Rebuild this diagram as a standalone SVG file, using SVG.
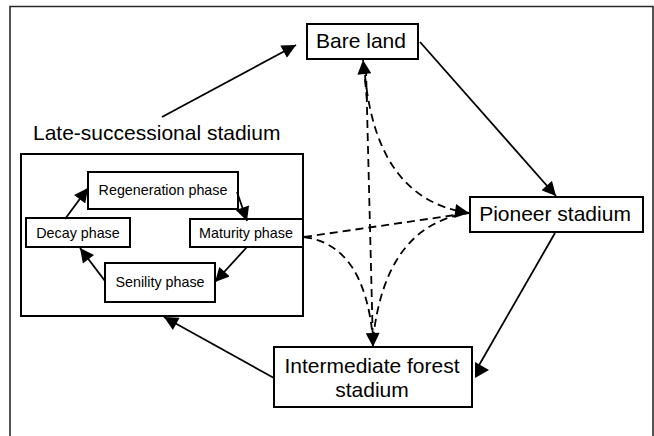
<svg xmlns="http://www.w3.org/2000/svg" width="654" height="436" viewBox="0 0 654 436">
<style>
.box{fill:#fff;stroke:#000;stroke-width:2}
.big{font-family:"Liberation Sans",Arial,sans-serif;font-size:21px;fill:#000;text-anchor:middle}
.small{font-family:"Liberation Sans",Arial,sans-serif;font-size:14.3px;fill:#000;text-anchor:middle}
.ln{fill:none;stroke:#000;stroke-width:1.8}
.dash{fill:none;stroke:#000;stroke-width:1.8;stroke-dasharray:8 5}
</style>
<defs>
<marker id="ah" viewBox="0 0 10 10" refX="10" refY="5" markerWidth="15" markerHeight="14" markerUnits="userSpaceOnUse" orient="auto">
<path d="M0,0 L10,5 L0,10 Z" fill="#000"/>
</marker>
</defs>
<rect x="0" y="0" width="654" height="436" fill="#fff"/>
<path d="M10,440 V6.5 H653 V440" fill="none" stroke="#2a2a2a" stroke-width="1.6"/>

<g id="late-label"><text class="big" x="33" y="140" style="text-anchor:start">Late-successional stadium</text></g>
<g id="late-box"><rect class="box" x="21" y="154" width="282" height="162"/></g>

<g id="bare-land"><rect class="box" x="307" y="24" width="111" height="35"/><text class="big" x="361" y="48">Bare land</text></g>
<g id="pioneer"><rect class="box" x="470" y="197" width="173" height="35"/><text class="big" x="555" y="221">Pioneer stadium</text></g>
<g id="intermediate"><rect class="box" x="274" y="347" width="198" height="60"/><text class="big" x="372" y="373">Intermediate forest</text><text class="big" x="372" y="397">stadium</text></g>

<g id="regeneration"><rect class="box" x="88" y="172" width="150" height="37"/><text class="small" x="163" y="195">Regeneration phase</text></g>
<g id="decay"><rect class="box" x="26" y="218" width="104" height="29"/><text class="small" x="78" y="238">Decay phase</text></g>
<g id="maturity"><rect class="box" x="190" y="219" width="113" height="28"/><text class="small" x="246" y="238">Maturity phase</text></g>
<g id="senility"><rect class="box" x="105" y="263" width="110" height="39"/><text class="small" x="160" y="287">Senility phase</text></g>

<g id="connectors">
<line class="ln" x1="162" y1="117" x2="296" y2="45" marker-end="url(#ah)"/>
<line class="ln" x1="420" y1="42" x2="556" y2="196" marker-end="url(#ah)"/>
<line class="ln" x1="555" y1="233" x2="478" y2="367"/>
<polygon points="475,362 489,370 475,378" fill="#000"/>
<line class="ln" x1="274" y1="378" x2="164" y2="317" marker-end="url(#ah)"/>

<line class="ln" x1="65" y1="219" x2="88" y2="188" marker-end="url(#ah)"/>
<line class="ln" x1="237" y1="192" x2="247" y2="221" marker-end="url(#ah)"/>
<line class="ln" x1="247" y1="247" x2="215" y2="282" marker-end="url(#ah)"/>
<line class="ln" x1="105" y1="281" x2="80" y2="248" marker-end="url(#ah)"/>

<path class="dash" d="M366,68 L373,347" marker-end="url(#ah)"/>
<path class="dash" d="M367,100 L363,60" marker-end="url(#ah)"/>
<path class="dash" d="M365,75 Q377,200 469,213" marker-end="url(#ah)"/>
<path class="dash" d="M373,340 Q385,225 469,213"/>
<path class="dash" d="M304,237 L469,213"/>
<path class="dash" d="M304,237 Q365,245 373,340"/>
</g>
</svg>
